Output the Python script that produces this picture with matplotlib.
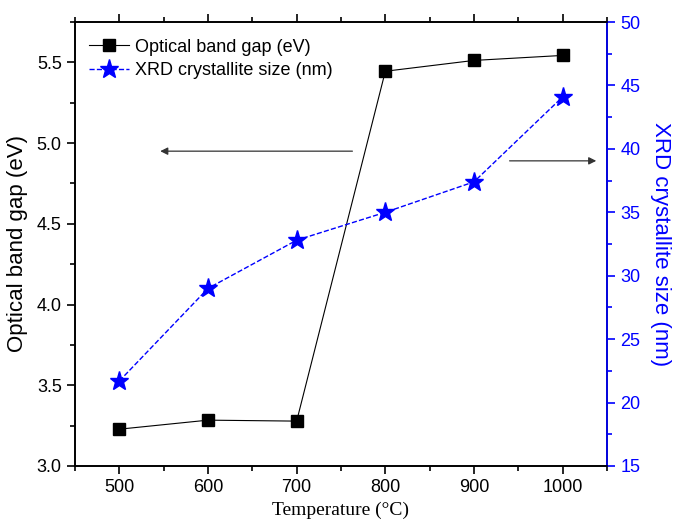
import numpy as np
import matplotlib.pyplot as plt

plt.rcParams['font.family'] = ['Liberation Sans', 'DejaVu Sans']

# data
temps = [500, 600, 700, 800, 900, 1000]
band_gap = [3.228, 3.284, 3.278, 5.445, 5.512, 5.543]
cryst_size = [21.7, 29.0, 32.8, 35.0, 37.4, 44.1]

fig = plt.figure(figsize=(6.75, 5.23), dpi=100)
ax = fig.add_axes([75 / 675, 57 / 523, 532 / 675, 444 / 523])
ax2 = ax.twinx()

l1, = ax.plot(temps, band_gap, '-', color='black', lw=0.8, marker='s', ms=9,
              label='Optical band gap (eV)', zorder=3)
l2, = ax2.plot(temps, cryst_size, '--', color='blue', lw=1.0, marker='*', ms=14,
               label='XRD crystallite size (nm)', zorder=3)

ax.set_xlim(450, 1050)
ax.set_ylim(3.0, 5.75)
ax2.set_ylim(15, 50)

ax.set_xticks(temps)
ax.set_xticks(np.arange(450, 1051, 100), minor=True)
ax.set_yticks([3.0, 3.5, 4.0, 4.5, 5.0, 5.5])
ax.set_yticks(np.arange(3.25, 5.76, 0.5), minor=True)
ax2.set_yticks(range(15, 51, 5))
ax2.set_yticks(np.arange(17.5, 50, 5), minor=True)

for a in (ax, ax2):
    a.tick_params(which='major', direction='out', length=6, width=1.2, labelsize=13)
    a.tick_params(which='minor', direction='out', length=3.5, width=1.2)
ax.tick_params(axis='x', which='both', top=True)
ax.tick_params(axis='x', which='both', labeltop=False)
ax.set_yticklabels(['3.0', '3.5', '4.0', '4.5', '5.0', '5.5'])

for s in ax.spines.values():
    s.set_linewidth(1.2)
for s in ax2.spines.values():
    s.set_linewidth(1.2)
ax2.spines['right'].set_color('blue')
ax2.tick_params(axis='y', which='both', colors='blue', labelcolor='blue')

ax.set_xlabel('Temperature (°C)', fontsize=14, family=['Liberation Serif', 'DejaVu Serif'])
ax.set_ylabel('Optical band gap (eV)', fontsize=16, labelpad=6)
ax2.set_ylabel('XRD crystallite size (nm)', fontsize=16, color='blue',
               rotation=270, labelpad=22)

ax.annotate('', xy=(543, 4.95), xytext=(766, 4.95),
            arrowprops=dict(arrowstyle='-|>', color='#333333', lw=0.9, mutation_scale=11))
ax.annotate('', xy=(1041, 4.89), xytext=(937, 4.89),
            arrowprops=dict(arrowstyle='-|>', color='#333333', lw=0.9, mutation_scale=11))

ax.legend(handles=[l1, l2], loc='upper left', frameon=False, fontsize=13,
          handlelength=2.2, handletextpad=0.3, borderaxespad=0.4, labelspacing=0.35,
          bbox_to_anchor=(0.0, 0.995))

fig.savefig('out.png', dpi=100)
